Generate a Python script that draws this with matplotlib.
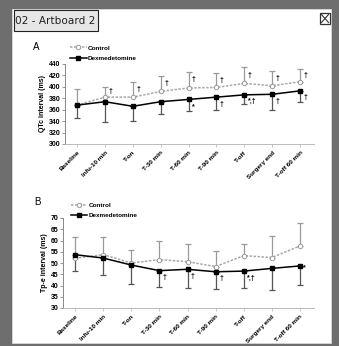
import matplotlib
matplotlib.use("Agg")
import matplotlib.pyplot as plt
from matplotlib.patches import Rectangle
from matplotlib.lines import Line2D

plt.rcParams['font.family'] = ['Liberation Sans', 'DejaVu Sans']

# ---- data ----
timepoints = ["Baseline", "Infu-10 min", "T-on", "T-30 min", "T-60 min",
              "T-90 min", "T-off", "Surgery end", "T-off 60 min"]

qtc_control = [368, 382, 382, 392, 398, 399, 406, 402, 409]
qtc_control_err = [29, 18, 26, 27, 28, 25, 28, 26, 22]
qtc_dex = [368, 374, 366, 374, 378, 382, 386, 387, 393]
qtc_dex_err = [22, 35, 25, 22, 20, 22, 16, 27, 19]
qtc_control_marks = ["", "†", "†", "†", "†", "†", "†", "†", "†"]
qtc_dex_marks = ["", "", "", "", "*", "†", "*,†", "†", "†"]

tpe_control = [52.1, 53.7, 50.0, 51.5, 50.6, 48.4, 53.3, 52.4, 57.6]
tpe_control_err = [9.5, 7.7, 5.6, 8.1, 7.7, 6.9, 5.1, 9.7, 10.0]
tpe_dex = [53.7, 52.2, 49.1, 46.6, 47.2, 46.1, 46.4, 47.6, 48.7]
tpe_dex_err = [7.1, 7.5, 8.3, 7.4, 8.2, 7.8, 7.4, 9.6, 8.5]
tpe_control_marks = ["", "", "", "", "", "", "", "", ""]
tpe_dex_marks = ["", "", "", "†", "†", "†", "*,†", "", "*"]

W, H = 339, 346
fig = plt.figure(figsize=(W / 100, H / 100), dpi=100)
fig.patch.set_facecolor("#6e6e6e")

def fx(px):
    return px / W

def fy(py):
    return 1 - py / H

# window panel
fig.patches.append(Rectangle((fx(12), fy(343)), fx(331) - fx(12), fy(9) - fy(343),
                             transform=fig.transFigure, facecolor="white",
                             edgecolor="#d8d8d8", lw=0.6, zorder=-10))
# title box
fig.patches.append(Rectangle((fx(13.5), fy(31)), fx(97.5) - fx(13.5), fy(10.5) - fy(31),
                             transform=fig.transFigure, facecolor="#e6e6e6",
                             edgecolor="#222222", lw=0.8, zorder=1))
fig.text(fx(15), fy(20.5), "02 - Artboard 2", fontsize=7.6, family="DejaVu Sans",
         va="center", ha="left", color="#222222")
# close icon
fig.patches.append(Rectangle((fx(320), fy(24)), fx(330) - fx(320), fy(13) - fy(24),
                             transform=fig.transFigure, facecolor="white",
                             edgecolor="#333333", lw=0.9, zorder=1))
fig.lines.append(Line2D([fx(321.5), fx(328.5)], [fy(22.5), fy(14.5)],
                        transform=fig.transFigure, color="#333333", lw=0.8))
fig.lines.append(Line2D([fx(321.5), fx(328.5)], [fy(14.5), fy(22.5)],
                        transform=fig.transFigure, color="#333333", lw=0.8))

x = list(range(len(timepoints)))


def panel(rect, ctrl, ctrl_err, dex, dex_err, cmarks, dmarks, ylim, yticks,
          ylabel, letter, letter_pos, leg_anchor, dy_ctrl, dy_dex):
    ax = fig.add_axes(rect)
    ax.set_facecolor("none")
    ax.errorbar(x, ctrl, yerr=[[0] * len(ctrl), ctrl_err], fmt="none",
                ecolor="#9a9a9a", elinewidth=0.9, capsize=2.0, capthick=0.9, zorder=2)
    ax.errorbar(x, dex, yerr=[dex_err, [0] * len(dex)], fmt="none",
                ecolor="#555555", elinewidth=0.9, capsize=2.0, capthick=0.9, zorder=2)
    ax.plot(x, ctrl, linestyle=(0, (1.6, 1.0)), color="#a8a8a8", lw=1.1,
            marker="o", markersize=3.2, markerfacecolor="white",
            markeredgecolor="#9a9a9a", markeredgewidth=0.7, zorder=3,
            label="Control")
    ax.plot(x, dex, linestyle="-", color="black", lw=1.1, marker="s",
            markersize=3.4, markerfacecolor="black", markeredgecolor="black",
            zorder=4, label="Dexmedetomine")
    for i, m in enumerate(cmarks):
        if m:
            ax.annotate(m, (x[i], ctrl[i] + ctrl_err[i] * 0.5), xytext=(2.5, dy_ctrl),
                        textcoords="offset points", fontsize=5, fontweight="bold",
                        ha="left", va="center")
    for i, m in enumerate(dmarks):
        if m:
            dy = dy_dex if m != "*" or i != len(dmarks) - 1 or letter == "A" else -1
            ax.annotate(m, (x[i], dex[i]), xytext=(2.5, dy),
                        textcoords="offset points", fontsize=5, fontweight="bold",
                        ha="left", va="center")
    ax.set_xlim(-0.43, 8.5)
    ax.set_ylim(*ylim)
    ax.set_yticks(yticks)
    ax.set_yticklabels([str(t) for t in yticks], fontsize=5, fontweight="bold")
    ax.set_xticks(x)
    ax.set_xticklabels(timepoints, rotation=45, ha="right", va="top",
                       rotation_mode="anchor", fontsize=4.6, fontweight="bold")
    ax.tick_params(axis="y", length=2, width=0.6, color="#888888", pad=1.5)
    ax.tick_params(axis="x", length=2, width=0.6, color="#bbbbbb", pad=2.2)
    for s in ("top", "right"):
        ax.spines[s].set_visible(False)
    ax.spines["left"].set_color("#888888")
    ax.spines["bottom"].set_color("#bbbbbb")
    ax.spines["left"].set_linewidth(0.7)
    ax.spines["bottom"].set_linewidth(0.7)
    ax.set_ylabel(ylabel, fontsize=5, fontweight="bold", labelpad=2)
    leg = ax.legend(loc="lower left", bbox_to_anchor=leg_anchor, frameon=False,
                    fontsize=4.6, handlelength=2.6, handletextpad=0.2,
                    labelspacing=0.75, borderpad=0, borderaxespad=0)
    for t in leg.get_texts():
        t.set_fontweight("bold")
    fig.text(fx(letter_pos[0]), fy(letter_pos[1]), letter, fontsize=7,
             ha="center", va="center")
    return ax


panel([fx(65), fy(144), fx(314) - fx(65), fy(64) - fy(144)],
      qtc_control, qtc_control_err, qtc_dex, qtc_dex_err,
      qtc_control_marks, qtc_dex_marks, (300, 440),
      [300, 320, 340, 360, 380, 400, 420, 440], "QTc interval (ms)",
      "A", (36, 47), (0.02, 1.04), 0, -5)

panel([fx(63), fy(308), fx(314) - fx(63), fy(218) - fy(308)],
      tpe_control, tpe_control_err, tpe_dex, tpe_dex_err,
      tpe_control_marks, tpe_dex_marks, (30, 70),
      [30, 35, 40, 45, 50, 55, 60, 65, 70], "Tp-e interval (ms)",
      "B", (37, 202), (0.03, 1.0), 0, -5)

fig.savefig("out.png", dpi=100, facecolor=fig.get_facecolor())
